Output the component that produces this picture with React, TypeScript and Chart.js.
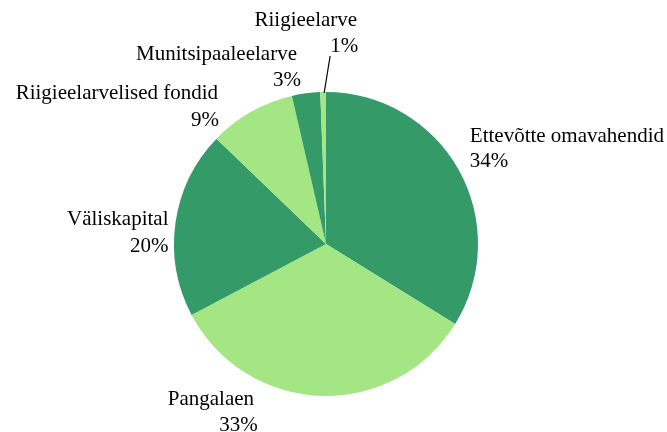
import React, { useEffect, useRef } from "react";
import { Chart, registerables } from "chart.js";

Chart.register(...registerables);

const categories = [
  "Ettevõtte omavahendid",
  "Pangalaen",
  "Väliskapital",
  "Riigieelarvelised fondid",
  "Munitsipaaleelarve",
  "Riigieelarve",
];
const values = [33.8, 33.4, 19.9, 9.2, 3.0, 0.6];
const colors = ["#349b68", "#a4e684", "#349b68", "#a4e684", "#349b68", "#a4e684"];

// label placement styles: per line [dx, dy, align] relative to arc edge at mid-angle
const labelStyles: Array<{ lines: Array<[number, number, CanvasTextAlign]>; leader?: [number, number] }> = [
  { lines: [[11, -28, "left"], [11, -3, "left"]] },
  { lines: [[-153, 9, "left"], [-63, 35, "right"]] },
  { lines: [[-7, 2.5, "right"], [-7, 29, "right"]] },
  { lines: [[-33, -13, "right"], [-32, 14, "right"]] },
  { lines: [[-9, -33, "right"], [-5, -7, "right"]] },
  { lines: [[34, -66, "right"], [35, -40, "right"]], leader: [7, -36] },
];

const labelPlugin = {
  id: "outerLabels",
  afterDraw(chart: any) {
    const ctx = chart.ctx;
    const meta = chart.getDatasetMeta(0);
    const data = chart.data.datasets[0].data as number[];
    const total = data.reduce((a, b) => a + b, 0);
    ctx.save();
    ctx.font = '21px "Liberation Serif", "Times New Roman", serif';
    ctx.fillStyle = "#000";
    ctx.textBaseline = "alphabetic";
    meta.data.forEach((arc: any, i: number) => {
      const p = arc.getProps(["x", "y", "startAngle", "endAngle", "outerRadius"], true);
      const mid = (p.startAngle + p.endAngle) / 2;
      const ax = p.x + Math.cos(mid) * p.outerRadius;
      const ay = p.y + Math.sin(mid) * p.outerRadius;
      const st = labelStyles[i];
      const texts = [chart.data.labels[i], Math.round((data[i] / total) * 100) + "%"];
      st.lines.forEach((ln, j) => {
        ctx.textAlign = ln[2];
        ctx.fillText(texts[j], ax + ln[0], ay + ln[1]);
      });
      if (st.leader) {
        ctx.strokeStyle = "#000";
        ctx.lineWidth = 1.2;
        ctx.beginPath();
        ctx.moveTo(ax + 1, ay + 1);
        ctx.lineTo(ax + st.leader[0], ay + st.leader[1]);
        ctx.stroke();
      }
    });
    ctx.restore();
  },
};

export default function App() {
  const ref = useRef<HTMLCanvasElement | null>(null);
  useEffect(() => {
    document.body.style.margin = "0";
    const chart = new Chart(ref.current as HTMLCanvasElement, {
      type: "pie",
      data: {
        labels: categories,
        datasets: [
          {
            data: values,
            backgroundColor: colors,
            borderWidth: 0,
          },
        ],
      },
      options: {
        animation: false,
        responsive: false,
        maintainAspectRatio: false,
        layout: { padding: { left: 174, right: 189, top: 92, bottom: 36 } },
        plugins: {
          legend: { display: false },
          tooltip: { enabled: false },
        },
      },
      plugins: [labelPlugin],
    });
    return () => chart.destroy();
  }, []);
  return (
    <div style={{ position: "absolute", left: 0, top: 0, width: 667, height: 432, background: "#fff" }}>
      <canvas ref={ref} width={667} height={432} />
    </div>
  );
}
